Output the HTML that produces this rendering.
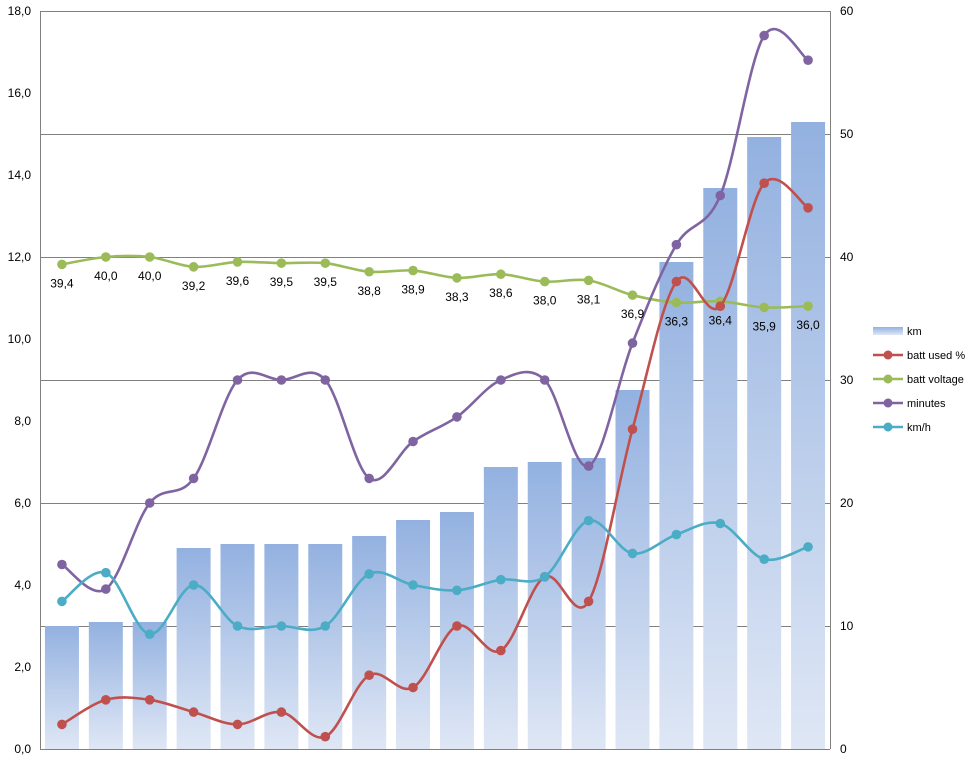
<!DOCTYPE html>
<html><head><meta charset="utf-8"><style>
html,body{margin:0;padding:0;background:#fff}
svg{display:block;font-family:"Liberation Sans",Arial,sans-serif}
</style></head><body>
<svg id="c" width="975" height="761" xmlns="http://www.w3.org/2000/svg">
<defs><linearGradient id="g" x1="0" y1="0" x2="0" y2="1">
<stop offset="0" stop-color="#93b1e0"/><stop offset="1" stop-color="#dfe7f5"/></linearGradient>
<linearGradient id="gl" x1="0" y1="0" x2="0" y2="1">
<stop offset="0" stop-color="#93b1e0"/><stop offset="1" stop-color="#dfe7f5"/></linearGradient></defs>
</svg>
<script>
var s=document.getElementById('c'),h='';
var L=40,R=830,T=11,B=749,n=18,cw=(R-L)/n;
function yl(v){return B-v*(B-T)/18}
function yr(v){return B-v*(B-T)/60}
function cx(i){return L+cw/2+i*cw}
for(var k=0;k<=6;k++){var y=yr(k*10);var yy=Math.round(y)+0.5;h+='<line x1="'+L+'" x2="'+R+'" y1="'+yy+'" y2="'+yy+'" stroke="#808080" stroke-width="1"/>';
h+='<text x="840" y="'+(y+4)+'" font-size="12">'+(k*10)+'</text>';}
for(var k=0;k<=9;k++){var y=yl(k*2);h+='<text x="31" y="'+(y+4)+'" font-size="12" text-anchor="end">'+(k*2).toFixed(1).replace('.',',')+'</text>';}
var tops=[626,622,622,548,544,544,544,536,520,512,467,462,458,390,262,188,137,122];
tops.forEach(function(t,i){h+='<rect x="'+(cx(i)-17)+'" y="'+t+'" width="34" height="'+(B-t)+'" fill="url(#g)"/>';});
h+='<line x1="'+(L+0.5)+'" x2="'+(L+0.5)+'" y1="'+T+'" y2="'+B+'" stroke="#808080"/><line x1="'+(R+0.5)+'" x2="'+(R+0.5)+'" y1="'+T+'" y2="'+B+'" stroke="#808080"/>';
function curve(vals,col){var p=vals.map(function(v,i){return [cx(i),yl(v)]});var d='M'+p[0][0]+','+p[0][1];
for(var i=0;i<p.length-1;i++){var p0=p[i-1]||p[i],p1=p[i],p2=p[i+1],p3=p[i+2]||p2;var t=6;
d+=' C'+(p1[0]+(p2[0]-p0[0])/t)+','+(p1[1]+(p2[1]-p0[1])/t)+' '+(p2[0]-(p3[0]-p1[0])/t)+','+(p2[1]-(p3[1]-p1[1])/t)+' '+p2[0]+','+p2[1];}
h+='<path d="'+d+'" fill="none" stroke="'+col+'" stroke-width="2.6"/>';
p.forEach(function(q){h+='<circle cx="'+q[0]+'" cy="'+q[1]+'" r="4.8" fill="'+col+'"/>';});return p;}
var volt=[39.4,40.0,40.0,39.2,39.6,39.5,39.5,38.8,38.9,38.3,38.6,38.0,38.1,36.9,36.3,36.4,35.9,36.0];
var gp=curve(volt.map(function(v){return v*0.3}),'#9bbb59');
curve([0.6,1.2,1.2,0.9,0.6,0.9,0.3,1.8,1.5,3.0,2.4,4.2,3.6,7.8,11.4,10.8,13.8,13.2],'#c0504d');
curve([4.5,3.9,6.0,6.6,9.0,9.0,9.0,6.6,7.5,8.1,9.0,9.0,6.9,9.9,12.3,13.5,17.4,16.8],'#8064a2');
curve([3.6,4.3,2.8,4.0,3.0,3.0,3.0,4.27,4.0,3.87,4.13,4.2,5.57,4.77,5.23,5.5,4.63,4.93],'#4bacc6');
gp.forEach(function(q,i){h+='<text x="'+q[0]+'" y="'+(q[1]+23)+'" font-size="12" text-anchor="middle">'+volt[i].toFixed(1).replace('.',',')+'</text>';});
var lg=[['km',null],['batt used %','#c0504d'],['batt voltage','#9bbb59'],['minutes','#8064a2'],['km/h','#4bacc6']];
lg.forEach(function(e,i){var y=331+i*24;
if(!e[1])h+='<rect x="873" y="'+(y-4)+'" width="30" height="8" fill="url(#gl)"/>';
else h+='<line x1="873" x2="903" y1="'+y+'" y2="'+y+'" stroke="'+e[1]+'" stroke-width="2.6"/><circle cx="888" cy="'+y+'" r="4.5" fill="'+e[1]+'"/>';
h+='<text x="907" y="'+(y+4)+'" font-size="11">'+e[0]+'</text>';});
s.insertAdjacentHTML('beforeend',h);
</script>
</body></html>
